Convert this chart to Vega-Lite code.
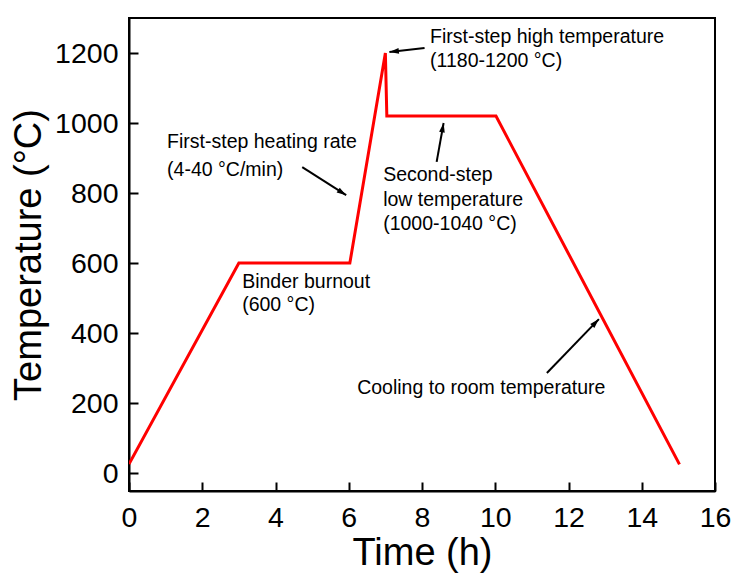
{
  "$schema": "https://vega.github.io/schema/vega-lite/v6.json",
  "width": 586,
  "height": 473,
  "autosize": {"type": "none"},
  "padding": {"left": 129, "top": 18, "right": 20, "bottom": 84},
  "background": "white",
  "config": {
    "font": "Liberation Sans",
    "view": {"stroke": "black", "strokeWidth": 2},
    "axis": {"grid": false, "domainColor": "black", "domainWidth": 2, "tickColor": "black", "tickWidth": 2, "labelColor": "black", "titleColor": "black", "labelFont": "Liberation Sans", "titleFont": "Liberation Sans", "titleFontWeight": "normal"}
  },
  "datasets": {
    "profile": [
      {"i": 1, "time": 0, "temp": 26},
      {"i": 2, "time": 3, "temp": 600},
      {"i": 3, "time": 6.03, "temp": 600},
      {"i": 4, "time": 7.0, "temp": 1200},
      {"i": 5, "time": 7.04, "temp": 1020},
      {"i": 6, "time": 10.02, "temp": 1020},
      {"i": 7, "time": 15.03, "temp": 25}
    ],
    "notes": [
      {"x": 8.22, "y": 1246, "label": "First-step high temperature"},
      {"x": 8.22, "y": 1177, "label": "(1180-1200 °C)"},
      {"x": 1.04, "y": 946, "label": "First-step heating rate"},
      {"x": 1.04, "y": 866, "label": "(4-40 °C/min)"},
      {"x": 6.94, "y": 851, "label": "Second-step"},
      {"x": 6.94, "y": 780, "label": "low temperature"},
      {"x": 6.94, "y": 711, "label": "(1000-1040 °C)"},
      {"x": 3.09, "y": 546, "label": "Binder burnout"},
      {"x": 3.09, "y": 480, "label": "(600 °C)"},
      {"x": 6.23, "y": 243, "label": "Cooling to room temperature"}
    ],
    "arrows": [
      {"x1": 8.07, "y1": 1214, "x2": 7.11, "y2": 1203},
      {"x1": 4.73, "y1": 874, "x2": 5.93, "y2": 794},
      {"x1": 8.40, "y1": 889, "x2": 8.59, "y2": 1000},
      {"x1": 11.41, "y1": 286, "x2": 12.83, "y2": 440}
    ]
  },
  "layer": [
    {
      "data": {"name": "profile"},
      "mark": {"type": "line", "color": "#ff0000", "strokeWidth": 3, "clip": true},
      "encoding": {
        "x": {
          "field": "time", "type": "quantitative",
          "scale": {"domain": [0, 16], "nice": false, "zero": false},
          "axis": {
            "title": "Time (h)", "titleFontSize": 38, "titlePadding": 3,
            "values": [0, 1, 2, 3, 4, 5, 6, 7, 8, 9, 10, 11, 12, 13, 14, 15, 16],
            "format": "d",
            "labelExpr": "datum.value % 2 === 0 ? datum.label : ''",
            "tickSize": -9,
            "tickDash": {"condition": {"test": "datum.value % 2 === 1", "value": [4.5, 20]}, "value": []},
            "labelFontSize": 28.5, "labelPadding": 21, "labelFlush": false, "labelOverlap": false
          }
        },
        "y": {
          "field": "temp", "type": "quantitative",
          "scale": {"domain": [-51, 1300], "nice": false, "zero": false},
          "axis": {
            "title": "Temperature (°C)", "titleFontSize": 38, "titlePadding": 6,
            "values": [0, 100, 200, 300, 400, 500, 600, 700, 800, 900, 1000, 1100, 1200],
            "format": "d",
            "labelExpr": "datum.value % 200 === 0 ? datum.label : ''",
            "tickSize": -9,
            "tickDash": {"condition": {"test": "datum.value % 200 === 100", "value": [4.5, 20]}, "value": []},
            "labelFontSize": 28.5, "labelPadding": 20, "labelFlush": false, "labelOverlap": false
          }
        },
        "order": {"field": "i", "type": "quantitative"}
      }
    },
    {
      "data": {"name": "notes"},
      "mark": {"type": "text", "align": "left", "baseline": "middle", "fontSize": 19.5, "color": "black"},
      "encoding": {
        "x": {"field": "x", "type": "quantitative"},
        "y": {"field": "y", "type": "quantitative"},
        "text": {"field": "label"}
      }
    },
    {
      "data": {"name": "arrows"},
      "mark": {"type": "rule", "color": "black", "strokeWidth": 2},
      "encoding": {
        "x": {"field": "x1", "type": "quantitative"},
        "y": {"field": "y1", "type": "quantitative"},
        "x2": {"field": "x2"},
        "y2": {"field": "y2"}
      }
    },
    {
      "data": {"name": "arrows"},
      "transform": [
        {"calculate": "atan2((datum.x2 - datum.x1) * 36.625, (datum.y2 - datum.y1) * 0.3494) * 180 / PI", "as": "ang"}
      ],
      "mark": {"type": "point", "shape": "M0,0L0.6,2L-0.6,2Z", "filled": true, "color": "black", "opacity": 1, "size": 90},
      "encoding": {
        "x": {"field": "x2", "type": "quantitative"},
        "y": {"field": "y2", "type": "quantitative"},
        "angle": {"field": "ang", "type": "quantitative", "scale": null}
      }
    }
  ]
}
